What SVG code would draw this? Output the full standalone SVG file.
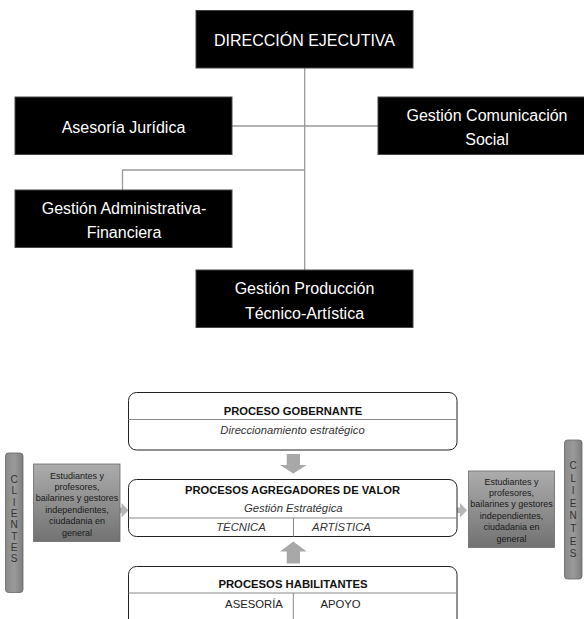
<svg xmlns="http://www.w3.org/2000/svg" width="584" height="619" viewBox="0 0 584 619">
<defs>
<style>
.org{fill:#000;stroke:#444;stroke-width:1}
.ot{font-family:"Liberation Sans",Arial,sans-serif;font-size:16px;fill:#fff;text-anchor:middle}
.conn{stroke:#9a9a9a;stroke-width:1.3;fill:none}
.pbox{fill:#fff;stroke:#222;stroke-width:1}
.div{stroke:#888;stroke-width:1}
.pt{font-family:"Liberation Sans",Arial,sans-serif;font-size:11.3px;fill:#111;text-anchor:middle}
.b{font-weight:bold}
.i{font-style:italic;fill:#333}
.ct{font-family:"Liberation Sans",Arial,sans-serif;font-size:9px;fill:#1a1a1a;text-anchor:middle}
.cl{font-family:"Liberation Sans",Arial,sans-serif;font-size:10px;fill:#333;text-anchor:middle}
.arr{fill:#a8a8a8}
.sarr{fill:#b5b5b5}
.cbox{fill:url(#gbox);stroke:#6a6a6a;stroke-width:0.8}
.bar{fill:url(#gbar);stroke:#666;stroke-width:0.8}
</style>
<linearGradient id="gbox" x1="0" y1="0" x2="0" y2="1">
<stop offset="0" stop-color="#acacac"/>
<stop offset="1" stop-color="#727272"/>
</linearGradient>
<linearGradient id="gbar" x1="0" y1="0" x2="1" y2="0">
<stop offset="0" stop-color="#8a8a8a"/>
<stop offset="0.5" stop-color="#9a9a9a"/>
<stop offset="1" stop-color="#7e7e7e"/>
</linearGradient>
</defs>
<rect width="584" height="619" fill="#fff"/>

<g id="connectors">
<path class="conn" d="M304.7 68 V270"/>
<path class="conn" d="M232 126 H378"/>
<path class="conn" d="M304.7 170 H122.5 V190"/>
</g>

<g id="n-direccion">
<rect class="org" x="196" y="10.5" width="217" height="57.5"/>
<text class="ot" x="304.5" y="46">DIRECCIÓN EJECUTIVA</text>
</g>
<g id="n-asesoria">
<rect class="org" x="15" y="97" width="217" height="57.5"/>
<text class="ot" x="123.5" y="133">Asesoría Jurídica</text>
</g>
<g id="n-comunicacion">
<rect class="org" x="378" y="97" width="220" height="57.5"/>
<text class="ot" x="487" y="121">Gestión Comunicación</text>
<text class="ot" x="487" y="145">Social</text>
</g>
<g id="n-administrativa">
<rect class="org" x="15" y="190" width="217" height="57.5"/>
<text class="ot" x="124" y="214">Gestión Administrativa-</text>
<text class="ot" x="124" y="238">Financiera</text>
</g>
<g id="n-produccion">
<rect class="org" x="196" y="270" width="217" height="57.5"/>
<text class="ot" x="304.5" y="294">Gestión Producción</text>
<text class="ot" x="304.5" y="319">Técnico-Artística</text>
</g>

<g id="arrows">
<path class="arr" d="M286.7 454 H300 V465 H306.7 L293.3 473.5 L280 465 H286.7 Z"/>
<path class="arr" d="M286.7 563.5 H300 V551.5 H306.7 L293.3 541.5 L280 551.5 H286.7 Z"/>
<path class="sarr" d="M110 507.5 H121.5 V503 L128.5 510.3 L121.5 517.5 V513 H110 Z"/>
<path class="sarr" d="M450 507.5 H460 V503 L467 510.3 L460 517.5 V513 H450 Z"/>
</g>

<g id="n-gobernante">
<rect class="pbox" x="128.5" y="392.5" width="328.5" height="57.5" rx="8"/>
<line class="div" x1="128.5" y1="419.5" x2="457" y2="419.5"/>
<text class="pt b" x="293" y="415" style="font-size:11.2px">PROCESO GOBERNANTE</text>
<text class="pt i" x="292.5" y="433.7" style="font-size:11.2px">Direccionamiento estratégico</text>
</g>

<g id="n-agregadores">
<rect class="pbox" x="128.5" y="479.5" width="328.5" height="57" rx="8"/>
<line class="div" x1="128.5" y1="518" x2="457" y2="518"/>
<line class="div" x1="293.5" y1="518" x2="293.5" y2="536.5"/>
<text class="pt b" x="292.5" y="493.5" style="font-size:11.2px">PROCESOS AGREGADORES DE VALOR</text>
<text class="pt i" x="293.3" y="512">Gestión Estratégica</text>
<text class="pt i" x="241" y="531">TÉCNICA</text>
<text class="pt i" x="341.5" y="531">ARTÍSTICA</text>
</g>

<g id="n-habilitantes">
<path class="pbox" d="M128.5 625 V574.5 A8 8 0 0 1 136.5 566.5 H449 A8 8 0 0 1 457 574.5 V625"/>
<line class="div" x1="128.5" y1="593" x2="457" y2="593"/>
<line class="div" x1="293.3" y1="593" x2="293.3" y2="619"/>
<text class="pt b" x="293" y="588">PROCESOS HABILITANTES</text>
<text class="pt" x="254" y="608" style="fill:#222">ASESORÍA</text>
<text class="pt" x="340.5" y="608" style="fill:#222">APOYO</text>
</g>

<g id="n-clientes-izq">
<rect class="bar" x="5.5" y="453" width="17.5" height="139.5" rx="3"/>
<text class="cl" x="14.2" y="483">C</text>
<text class="cl" x="14.2" y="494.3">L</text>
<text class="cl" x="14.2" y="505.6">I</text>
<text class="cl" x="14.2" y="516.9">E</text>
<text class="cl" x="14.2" y="528.2">N</text>
<text class="cl" x="14.2" y="539.5">T</text>
<text class="cl" x="14.2" y="550.8">E</text>
<text class="cl" x="14.2" y="562.1">S</text>
</g>

<g id="n-publico-izq">
<rect class="cbox" x="33.5" y="464" width="86.5" height="77.5"/>
<text class="ct" x="77" y="478.5">Estudiantes y</text>
<text class="ct" x="77" y="489.9">profesores,</text>
<text class="ct" x="77" y="501.3">bailarines y gestores</text>
<text class="ct" x="77" y="512.7">independientes,</text>
<text class="ct" x="77" y="524.1">ciudadania en</text>
<text class="ct" x="77" y="535.5">general</text>
</g>

<g id="n-publico-der">
<rect class="cbox" x="468.5" y="471" width="86" height="76.5"/>
<text class="ct" x="511.5" y="484.5">Estudiantes y</text>
<text class="ct" x="511.5" y="495.9">profesores,</text>
<text class="ct" x="511.5" y="507.3">bailarines y gestores</text>
<text class="ct" x="511.5" y="518.7">independientes,</text>
<text class="ct" x="511.5" y="530.1">ciudadania en</text>
<text class="ct" x="511.5" y="541.5">general</text>
</g>

<g id="n-clientes-der">
<rect class="bar" x="564.5" y="440" width="17.5" height="139" rx="3"/>
<text class="cl" x="573.2" y="469">C</text>
<text class="cl" x="573.2" y="481.6">L</text>
<text class="cl" x="573.2" y="494.2">I</text>
<text class="cl" x="573.2" y="506.8">E</text>
<text class="cl" x="573.2" y="519.4">N</text>
<text class="cl" x="573.2" y="532">T</text>
<text class="cl" x="573.2" y="544.6">E</text>
<text class="cl" x="573.2" y="557.2">S</text>
</g>
</svg>
